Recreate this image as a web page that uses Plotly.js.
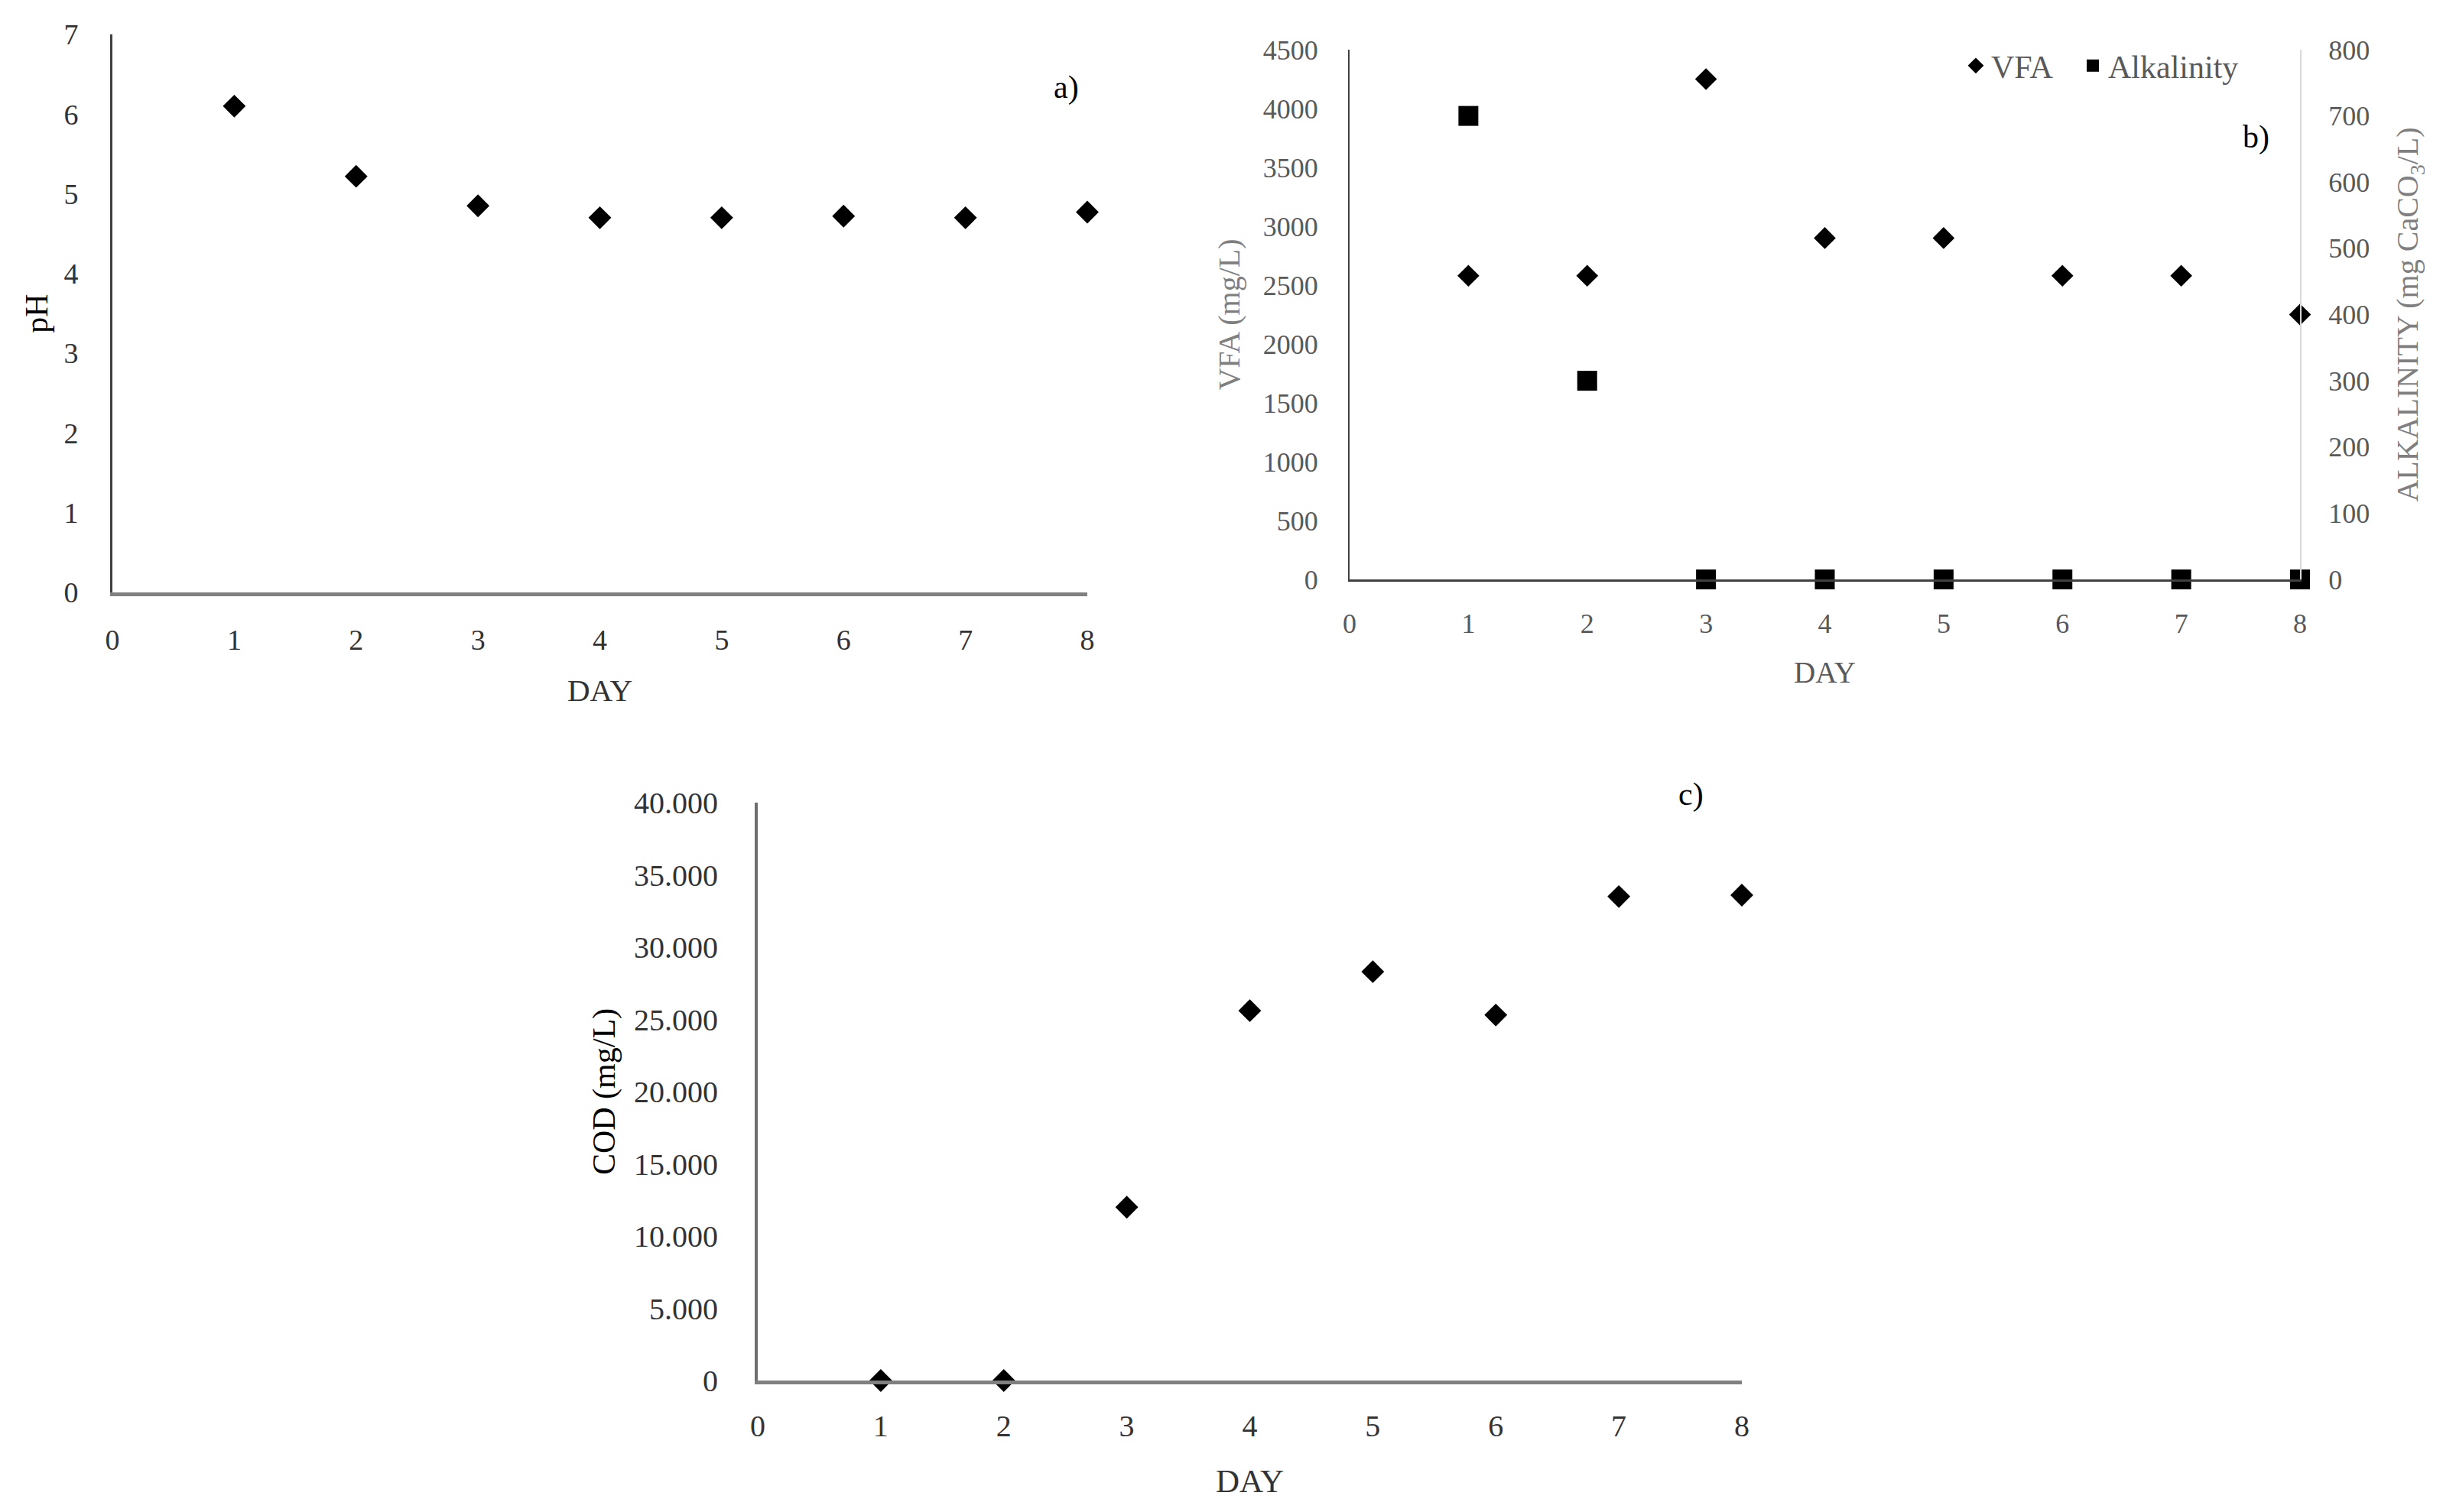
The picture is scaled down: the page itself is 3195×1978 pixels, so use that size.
<!DOCTYPE html>
<html>
<head>
<meta charset="utf-8">
<script src="https://cdn.plot.ly/plotly-3.0.1.min.js"></script>
<style>
  html, body { margin: 0; padding: 0; background: #fff; }
  #chart { width: 3195px; height: 1978px; }
</style>
</head>
<body>
<div id="chart"></div>
<script>
// data
const days = [1, 2, 3, 4, 5, 6, 7, 8];
const ph = [6.1, 5.22, 4.85, 4.7, 4.7, 4.72, 4.7, 4.77];
const vfa = [2580, 2580, 4250, 2900, 2900, 2580, 2580, 2250];
const alkalinity = [700, 300, 0, 0, 0, 0, 0, 0];
const cod = [0, 0, 12000, 25600, 28300, 25300, 33500, 33600];
const dayTicks = [0, 1, 2, 3, 4, 5, 6, 7, 8];

const W = 3195, H = 1978;
// plot boxes in page pixels -> paper fractions
function xdom(l, r) { return [l / W, r / W]; }
function ydom(t, b) { return [1 - b / H, 1 - t / H]; }

const serif = 'Liberation Serif, Times New Roman, serif';
const dark = '#333333';
const grey = '#595959';

const traces = [
  {
    x: days, y: ph, xaxis: 'x', yaxis: 'y',
    type: 'scatter', mode: 'markers', name: 'pH', showlegend: false,
    cliponaxis: false,
    marker: { symbol: 'diamond', size: 23, color: '#000' }
  },
  {
    x: days, y: vfa, xaxis: 'x2', yaxis: 'y2',
    type: 'scatter', mode: 'markers', name: 'VFA', legend: 'legend',
    cliponaxis: false,
    marker: { symbol: 'diamond', size: 22, color: '#000' }
  },
  {
    x: days, y: alkalinity, xaxis: 'x2', yaxis: 'y3',
    type: 'scatter', mode: 'markers', name: 'Alkalinity', legend: 'legend2',
    cliponaxis: false,
    marker: { symbol: 'square', size: 26, color: '#000' }
  },
  {
    x: days, y: cod, xaxis: 'x3', yaxis: 'y4',
    type: 'scatter', mode: 'markers', name: 'COD', showlegend: false,
    cliponaxis: false,
    marker: { symbol: 'diamond', size: 23, color: '#000' }
  }
];

function xAxis(dom, anchor, font, line, lw, standoff, titleStandoff) {
  return {
    domain: dom, anchor: anchor, range: [0, 8],
    tickvals: dayTicks, ticks: '', showgrid: false, zeroline: false,
    showline: true, linecolor: line, linewidth: lw,
    tickfont: font, ticklabelstandoff: standoff,
    title: { text: 'DAY', font: { family: serif, size: font.size + 3, color: font.color }, standoff: titleStandoff },
    fixedrange: true
  };
}

function panelLabel(text, px, py) {
  return {
    text: text, xref: 'paper', yref: 'paper', x: px / W, y: 1 - py / H,
    xanchor: 'center', yanchor: 'middle', showarrow: false,
    font: { family: serif, size: 42, color: '#000' }
  };
}

function legendAt(px) {
  return {
    orientation: 'h', x: px / W, xanchor: 'left', y: 1 - 86 / H, yanchor: 'middle',
    font: { family: serif, size: 42, color: grey }, bgcolor: 'rgba(0,0,0,0)'
  };
}

const layout = {
  width: W, height: H,
  margin: { l: 0, r: 0, t: 0, b: 0 },
  paper_bgcolor: '#fff', plot_bgcolor: 'rgba(0,0,0,0)',
  separators: ',.',
  font: { family: serif, color: dark },
  showlegend: true,
  legend: legendAt(2564),
  legend2: legendAt(2717),

  // a) pH
  xaxis: xAxis(xdom(147, 1422), 'y', { family: serif, size: 38, color: dark }, '#808080', 5, 24, 33),
  yaxis: {
    domain: ydom(45, 775), anchor: 'x', range: [0, 7], dtick: 1,
    ticks: '', showgrid: false, zeroline: false,
    showline: true, linecolor: '#404040', linewidth: 3,
    tickfont: { family: serif, size: 38, color: dark }, ticklabelstandoff: 34,
    title: { text: 'pH', font: { family: serif, size: 42, color: '#000' }, standoff: 8 }
  },

  // b) VFA / alkalinity
  xaxis2: xAxis(xdom(1765, 3008), 'y2', { family: serif, size: 36, color: grey }, '#404040', 3, 24, 31),
  yaxis2: {
    domain: ydom(65, 758), anchor: 'x2', range: [0, 4500], dtick: 500,
    ticks: '', showgrid: false, zeroline: false,
    showline: true, linecolor: '#404040', linewidth: 2,
    tickfont: { family: serif, size: 36, color: grey }, ticklabelstandoff: 32,
    title: { text: 'VFA (mg/L)', font: { family: serif, size: 40, color: '#7f7f7f' }, standoff: 18 }
  },
  yaxis3: {
    overlaying: 'y2', anchor: 'x2', side: 'right', range: [0, 800], dtick: 100,
    ticks: '', showgrid: false, zeroline: false,
    showline: true, linecolor: '#d9d9d9', linewidth: 2,
    tickfont: { family: serif, size: 36, color: grey }, ticklabelstandoff: 28,
    title: { text: 'ALKALINITY (mg CaCO<sub>3</sub>/L)', font: { family: serif, size: 40, color: '#7f7f7f' }, standoff: 36 }
  },

  // c) COD
  xaxis3: xAxis(xdom(991, 2278), 'y4', { family: serif, size: 40, color: dark }, '#808080', 5, 20, 36),
  yaxis4: {
    domain: ydom(1050, 1806), anchor: 'x3', range: [0, 40000], dtick: 5000, tickformat: ',',
    ticks: '', showgrid: false, zeroline: false,
    showline: true, linecolor: '#6e6e6e', linewidth: 4,
    tickfont: { family: serif, size: 40, color: dark }, ticklabelstandoff: 40,
    title: { text: 'COD (mg/L)', font: { family: serif, size: 42, color: '#000' }, standoff: 12 }
  },

  annotations: [
    panelLabel('a)', 1394, 114),
    panelLabel('b)', 2950, 179),
    panelLabel('c)', 2211, 1039)
  ]
};

Plotly.newPlot('chart', traces, layout, { displayModeBar: false, staticPlot: true });
</script>
</body>
</html>
